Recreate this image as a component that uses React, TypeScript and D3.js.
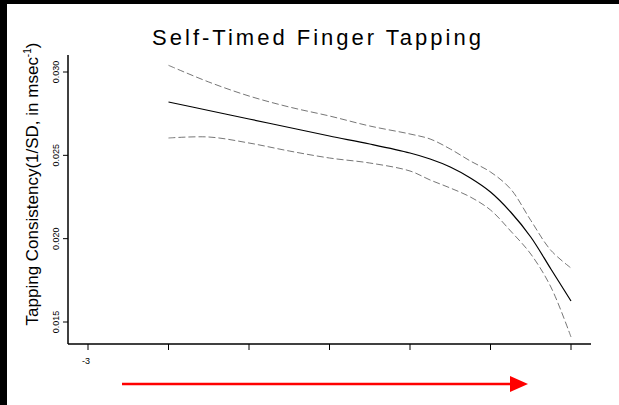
import React from "react";
import * as d3 from "d3";

const xs = [-2, -1.5, -1, -0.5, 0, 0.5, 1, 1.25, 1.5, 1.75, 2, 2.25, 2.5, 2.75, 3];
const meanVals = [0.0282, 0.02769, 0.02718, 0.02667, 0.02616, 0.02568, 0.02514, 0.02478, 0.0243, 0.02364, 0.0228, 0.0216, 0.0201, 0.01818, 0.01626];
const upperVals = [0.0304, 0.0294, 0.02856, 0.0279, 0.02736, 0.02676, 0.02628, 0.02598, 0.02538, 0.02466, 0.024, 0.02298, 0.0211, 0.0193, 0.01824];
const lowerVals = [0.02604, 0.0261, 0.02574, 0.02526, 0.02484, 0.02454, 0.02406, 0.02352, 0.02304, 0.0225, 0.02172, 0.02046, 0.01908, 0.0171, 0.0141];
const xTicks = [-3, -2, -1, 0, 1, 2, 3];
const xTickLabels = ["-3", "", "", "", "", "", ""];
const yTicks = [0.015, 0.02, 0.025, 0.03];
const yTickLabels = ["0.015", "0.020", "0.025", "0.030"];

const W = 619;
const H = 405;
const axisX = 68;
const axisY = 344;

export default function App() {
  const x = d3.scaleLinear().domain([-3, 3]).range([88, 571]);
  const y = d3.scaleLinear().domain([0.015, 0.03]).range([322, 72]);
  const line = (vals: number[]) =>
    d3
      .line<number>()
      .x((_, i) => x(xs[i]))
      .y((d) => y(d))
      .curve(d3.curveCatmullRom.alpha(0.5))(vals) || "";
  const font = "Liberation Sans, Arial, sans-serif";
  return (
    <svg width={W} height={H} style={{ position: "absolute", left: 0, top: 0, background: "#fff" }} fontFamily={font}>
      <rect x={0} y={0} width={W} height={H} fill="#fff" />
      <rect x={0} y={0} width={7} height={H} fill="#000" />
      <rect x={0} y={0} width={W} height={4} fill="#000" />
      <text x={318} y={45} textAnchor="middle" fontSize={22} letterSpacing={3} fill="#000">
        Self-Timed Finger Tapping
      </text>
      <text transform={`translate(38,184) rotate(-90)`} textAnchor="middle" fontSize={17} fill="#000">
        Tapping Consistency(1/SD, in msec
        <tspan fontSize={10} dy={-7}>-1</tspan>
        <tspan dy={7}>)</tspan>
      </text>
      <line x1={axisX} y1={55} x2={axisX} y2={axisY} stroke="#000" strokeWidth={1.5} />
      <line x1={axisX} y1={axisY} x2={591} y2={axisY} stroke="#000" strokeWidth={1.5} />
      {yTicks.map((t, i) => (
        <g key={"y" + i}>
          <line x1={axisX - 5} x2={axisX} y1={y(t)} y2={y(t)} stroke="#000" strokeWidth={1} />
          <text transform={`translate(59,${y(t)}) rotate(-90)`} textAnchor="middle" fontSize={9} fill="#000">
            {yTickLabels[i]}
          </text>
        </g>
      ))}
      {xTicks.map((t, i) => (
        <g key={"x" + i}>
          <line x1={x(t)} x2={x(t)} y1={axisY} y2={axisY + 6} stroke="#000" strokeWidth={1} />
          <text x={x(t) - 2} y={364} textAnchor="middle" fontSize={9} fill="#000">
            {xTickLabels[i]}
          </text>
        </g>
      ))}
      <path d={line(upperVals)} fill="none" stroke="#666" strokeWidth={0.9} strokeDasharray="7 3" />
      <path d={line(lowerVals)} fill="none" stroke="#666" strokeWidth={0.9} strokeDasharray="7 3" />
      <path d={line(meanVals)} fill="none" stroke="#000" strokeWidth={1.2} />
      <line x1={122} y1={384} x2={512} y2={384} stroke="#ff0000" strokeWidth={2.5} />
      <polygon points="510,376 510,392 528,384" fill="#ff0000" />
    </svg>
  );
}
